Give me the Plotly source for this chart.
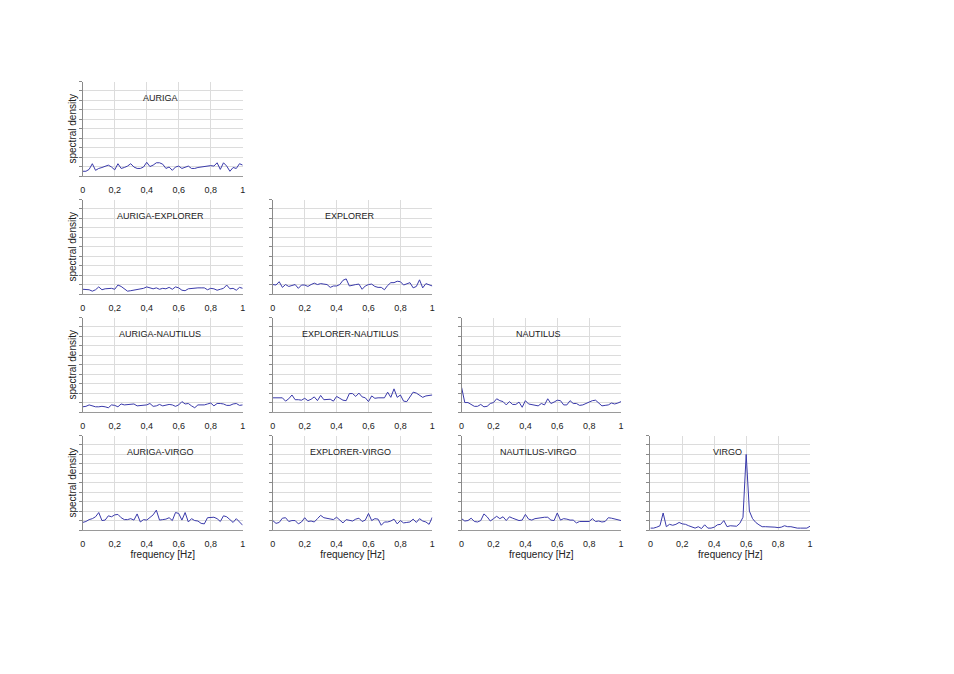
import plotly.graph_objects as go

# frequency axis (Hz), 0.02 Hz steps
freq = [0.00, 0.02, 0.04, 0.06, 0.08, 0.10, 0.12, 0.14, 0.16, 0.18,
        0.20, 0.22, 0.24, 0.26, 0.28, 0.30, 0.32, 0.34, 0.36, 0.38,
        0.40, 0.42, 0.44, 0.46, 0.48, 0.50, 0.52, 0.54, 0.56, 0.58,
        0.60, 0.62, 0.64, 0.66, 0.68, 0.70, 0.72, 0.74, 0.76, 0.78,
        0.80, 0.82, 0.84, 0.86, 0.88, 0.90, 0.92, 0.94, 0.96, 0.98, 1.00]

freq_ticks = [0, 0.2, 0.4, 0.6, 0.8, 1]

# spectral density values (arbitrary units, grid 0..10)
auriga = [0.5, 0.5, 0.7, 1.3, 0.6, 0.8, 0.9, 1.0, 1.15, 0.95,
          0.65, 1.3, 0.8, 0.9, 1.05, 1.3, 0.95, 0.8, 0.8, 0.95,
          1.45, 1.0, 1.15, 1.4, 1.4, 1.25, 0.8, 0.95, 0.6, 0.95,
          1.05, 0.8, 0.9, 1.05, 0.8, 0.8, 0.9, 0.95, 1.0, 1.1,
          1.1, 1.05, 1.4, 0.7, 1.4, 1.05, 0.5, 0.9, 0.8, 1.3, 1.15]

auriga_explorer = [0.5, 0.5, 0.45, 0.3, 0.45, 0.75, 0.45, 0.55, 0.55, 0.6,
                   0.5, 0.95, 0.8, 0.5, 0.3, 0.35, 0.4, 0.5, 0.55, 0.6,
                   0.75, 0.65, 0.55, 0.65, 0.5, 0.6, 0.55, 0.7, 0.5, 0.75,
                   0.65, 0.4, 0.35, 0.55, 0.6, 0.65, 0.65, 0.65, 0.65, 0.45,
                   0.6, 0.55, 0.4, 0.5, 0.6, 0.95, 0.55, 0.6, 0.4, 0.7, 0.6]

explorer = [1.0, 0.95, 1.3, 0.7, 1.0, 0.8, 0.9, 1.0, 0.6, 0.95,
            0.95, 0.8, 1.0, 1.15, 1.0, 1.1, 1.05, 1.0, 0.7, 0.85,
            0.85, 1.0, 1.45, 1.6, 0.85, 0.95, 1.0, 1.05, 0.5, 0.85,
            1.0, 1.05, 0.8, 0.7, 0.7, 0.45, 0.9, 1.2, 1.2, 1.35,
            1.3, 0.95, 1.05, 1.2, 0.65, 0.8, 1.5, 0.65, 1.1, 1.0, 0.85]

auriga_nautilus = [0.55, 0.6, 0.75, 0.65, 0.55, 0.55, 0.6, 0.55, 0.45, 0.75,
                   0.7, 0.55, 0.85, 0.75, 0.8, 0.85, 0.85, 0.65, 0.7, 0.7,
                   0.75, 0.9, 0.6, 0.65, 0.8, 0.65, 0.7, 0.8, 0.75, 0.6,
                   0.75, 1.1, 0.85, 0.9, 0.65, 0.45, 0.75, 0.75, 0.75, 0.85,
                   0.95, 0.65, 0.9, 0.9, 0.85, 0.7, 0.7, 0.85, 0.9, 0.7, 0.75]

explorer_nautilus = [1.5, 1.5, 1.55, 1.5, 1.15, 1.4, 1.8, 1.3, 1.3, 1.25,
                     1.45, 1.2, 1.35, 1.6, 1.2, 1.75, 1.3, 1.3, 1.35, 1.15,
                     1.65, 1.45, 1.25, 1.2, 1.95, 1.95, 1.65, 2.0, 1.6, 1.5,
                     1.1, 1.7, 1.45, 1.5, 1.5, 1.5, 2.1, 1.55, 2.45, 1.55,
                     1.8, 1.15, 1.1, 1.6, 2.1, 2.0, 1.8, 1.55, 1.7, 1.75, 1.8]

nautilus = [2.6, 1.0, 1.0, 0.8, 0.6, 0.6, 0.8, 0.55, 0.6, 0.9,
            1.0, 1.4, 1.2, 1.1, 0.75, 1.1, 0.8, 0.8, 1.05, 0.5,
            1.2, 0.85, 0.8, 0.75, 0.65, 0.9, 0.75, 1.4, 0.9, 1.05,
            1.25, 1.2, 0.75, 0.75, 1.2, 0.9, 0.9, 0.7, 0.75, 0.9,
            1.05, 1.2, 1.25, 0.9, 0.65, 0.7, 0.75, 0.95, 0.85, 0.95, 1.1]

auriga_virgo = [0.8, 0.9, 1.1, 1.2, 1.4, 1.85, 1.0, 1.05, 1.5, 1.4,
                1.6, 1.65, 1.3, 1.1, 1.1, 1.2, 1.05, 1.7, 0.85, 1.1,
                1.05, 1.3, 1.6, 2.1, 1.05, 1.1, 1.15, 1.3, 1.0, 1.85,
                1.75, 1.05, 1.85, 0.85, 1.2, 1.0, 0.95, 0.7, 0.65, 1.3,
                1.3, 1.35, 1.2, 0.9, 1.5, 1.4, 1.1, 0.8, 1.2, 0.9, 0.5]

explorer_virgo = [1.0, 0.7, 0.8, 1.25, 1.3, 0.9, 1.0, 1.0, 0.65, 0.85,
                  1.3, 0.9, 0.95, 0.85, 1.2, 1.55, 1.3, 1.25, 1.15, 1.1,
                  1.35, 1.0, 0.75, 1.1, 1.05, 0.95, 1.15, 1.25, 0.9, 1.05,
                  1.75, 1.0, 1.2, 1.15, 0.5, 0.85, 0.85, 0.95, 1.15, 0.65,
                  1.0, 0.75, 0.8, 0.85, 1.15, 0.8, 1.2, 0.95, 0.85, 0.6, 1.35]

nautilus_virgo = [1.2, 0.95, 1.0, 1.25, 0.9, 0.85, 1.0, 1.7, 1.4, 0.95,
                  1.2, 1.45, 1.2, 1.4, 1.0, 1.4, 1.25, 1.1, 1.0, 1.05,
                  1.65, 1.15, 1.05, 1.2, 1.25, 1.35, 1.35, 1.35, 1.05, 1.0,
                  1.8, 1.05, 1.2, 1.15, 1.05, 1.05, 0.75, 0.9, 0.9, 0.85,
                  0.9, 1.2, 0.9, 0.95, 0.85, 0.9, 1.3, 1.25, 1.15, 1.1, 1.0]

virgo = [0.2, 0.2, 0.3, 0.45, 1.8, 0.35, 0.6, 0.5, 0.6, 0.8,
         0.65, 0.6, 0.45, 0.35, 0.2, 0.35, 0.15, 0.55, 0.2, 0.2,
         0.3, 0.55, 0.6, 1.0, 0.35, 0.45, 0.4, 0.4, 0.7, 1.35,
         8.0, 2.0, 1.2, 0.8, 0.55, 0.35, 0.35, 0.35, 0.3, 0.3,
         0.25, 0.3, 0.45, 0.35, 0.35, 0.25, 0.2, 0.2, 0.2, 0.2, 0.4]

# (row, col, label, data) - lower triangle of the detector matrix
panels = [
    (1, 1, 'AURIGA', auriga),
    (2, 1, 'AURIGA-EXPLORER', auriga_explorer),
    (2, 2, 'EXPLORER', explorer),
    (3, 1, 'AURIGA-NAUTILUS', auriga_nautilus),
    (3, 2, 'EXPLORER-NAUTILUS', explorer_nautilus),
    (3, 3, 'NAUTILUS', nautilus),
    (4, 1, 'AURIGA-VIRGO', auriga_virgo),
    (4, 2, 'EXPLORER-VIRGO', explorer_virgo),
    (4, 3, 'NAUTILUS-VIRGO', nautilus_virgo),
    (4, 4, 'VIRGO', virgo),
]

# the page body has a default 8px margin, so the figure is a bit smaller
OFF = 8.5
W, H = 938, 658
# pixel boxes of the panels (page coordinates)
col_px = [(80.7, 241.7), (272, 432.5), (462, 622.5), (652, 812.7)]
row_px = [(82, 176.5), (200, 294.5), (318, 412.5), (436, 530.5)]

font = 'Liberation Sans, Arial, sans-serif'
line_color = '#3a3aaa'
grid_color = '#dcdcdc'

fig = go.Figure()
layout = dict(width=W, height=H, margin=dict(l=0, r=0, t=0, b=0),
              paper_bgcolor='white', plot_bgcolor='white',
              showlegend=False, separators=', ',
              font=dict(family=font, size=9, color='#222222'))
annotations = []

for k, (row, col, label, values) in enumerate(panels, start=1):
    suffix = '' if k == 1 else str(k)
    x0, x1 = col_px[col - 1]
    y0, y1 = row_px[row - 1]

    fig.add_trace(go.Scatter(x=freq, y=values, mode='lines',
                             line=dict(color=line_color, width=1),
                             xaxis='x' + suffix, yaxis='y' + suffix,
                             hoverinfo='skip'))

    layout['xaxis' + suffix] = dict(
        domain=[(x0 - OFF) / W, (x1 - OFF) / W], anchor='y' + suffix, range=[0, 1],
        tickvals=freq_ticks, showgrid=True, gridcolor=grid_color, gridwidth=1,
        showline=True, linecolor='#9a9a9a', linewidth=1, zeroline=False,
        ticks='', ticklabelstandoff=5, tickfont=dict(size=9, color='#222222'),
        title=dict(text='frequency [Hz]' if row == 4 else '',
                   font=dict(size=10), standoff=2),
        fixedrange=True)
    layout['yaxis' + suffix] = dict(
        domain=[1 - (y1 - OFF) / H, 1 - (y0 - OFF) / H], anchor='x' + suffix,
        range=[0, 10], dtick=1, showgrid=True, gridcolor=grid_color, gridwidth=1,
        showline=True, linecolor='#8a8a8a', linewidth=1, zeroline=False,
        ticks='outside', ticklen=3, tickcolor='#8a8a8a', showticklabels=False,
        title=dict(text='spectral density' if col == 1 else '',
                   font=dict(size=10), standoff=0),
        fixedrange=True)

    annotations.append(dict(text=label, showarrow=False,
                            xref='x' + suffix + ' domain', x=0.485, xanchor='center',
                            yref='y' + suffix + ' domain', y=0.825, yanchor='middle',
                            font=dict(size=9, color='#222222')))

layout['annotations'] = annotations
fig.update_layout(**layout)

fig.write_html("out.html")
